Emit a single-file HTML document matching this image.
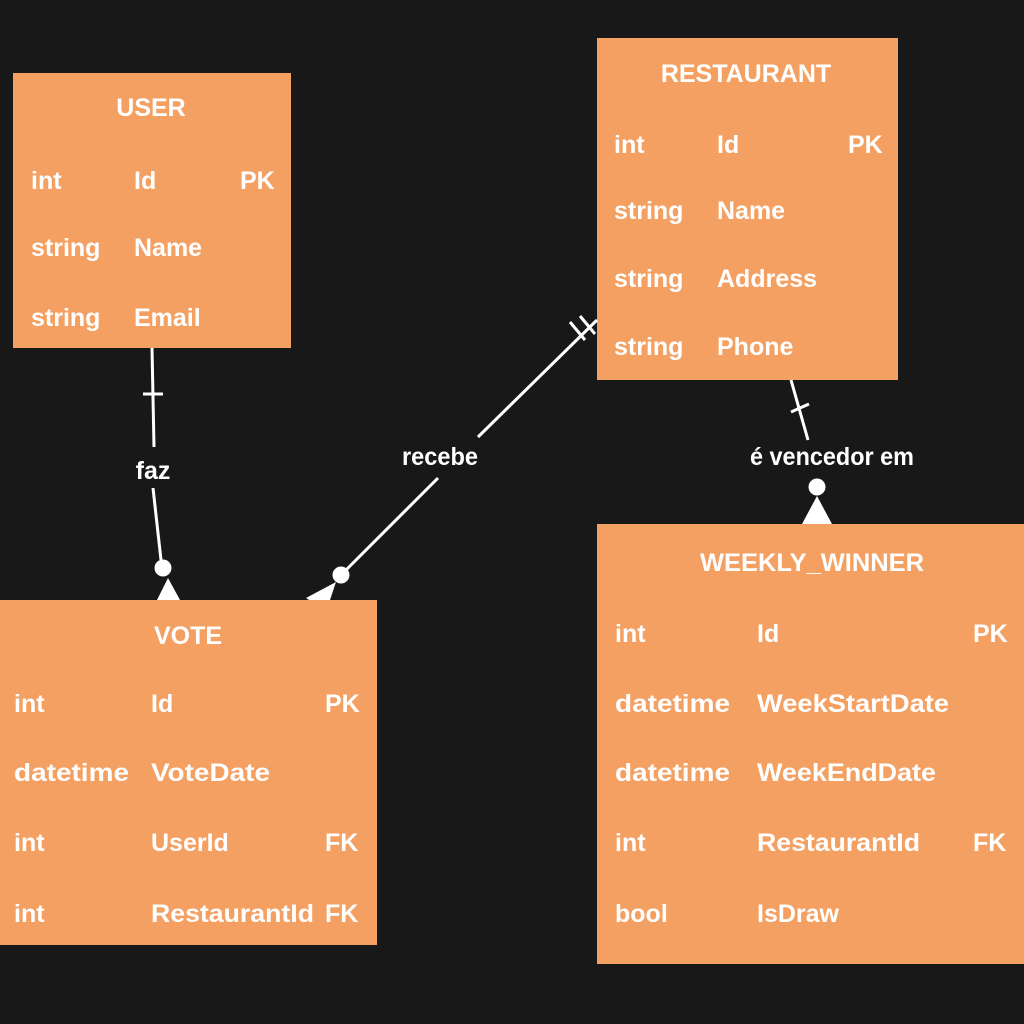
<!DOCTYPE html>
<html><head><meta charset="utf-8"><style>
html,body{margin:0;padding:0;background:#181818;}
svg{display:block}
text{font-family:"Liberation Sans",sans-serif;font-weight:bold;fill:#fff;dominant-baseline:central;font-size:25px}
</style></head><body>
<svg width="1024" height="1024" viewBox="0 0 1024 1024">
<rect width="1024" height="1024" fill="#181818"/>
<g fill="#F4A062">
<rect x="13" y="73" width="278" height="275"/>
<rect x="597" y="38" width="301" height="342"/>
<rect x="0" y="600" width="377" height="345"/>
<rect x="597" y="524" width="427" height="440"/>
</g>
<!-- USER -->
<text x="151" y="108" text-anchor="middle">USER</text>
<text x="31" y="181">int</text><text x="134" y="181">Id</text><text x="240" y="181">PK</text>
<text x="31" y="248">string</text><text x="134" y="248">Name</text>
<text x="31" y="318">string</text><text x="134" y="318">Email</text>
<!-- RESTAURANT -->
<text x="746" y="74" text-anchor="middle">RESTAURANT</text>
<text x="614" y="145">int</text><text x="717" y="145">Id</text><text x="848" y="145">PK</text>
<text x="614" y="211">string</text><text x="717" y="211">Name</text>
<text x="614" y="279">string</text><text x="717" y="279">Address</text>
<text x="614" y="347">string</text><text x="717" y="347">Phone</text>
<!-- VOTE -->
<text x="188" y="636" text-anchor="middle">VOTE</text>
<text x="14" y="704">int</text><text x="151" y="704">Id</text><text x="325" y="704">PK</text>
<text x="14" y="773" textLength="115" lengthAdjust="spacingAndGlyphs">datetime</text><text x="151" y="773" textLength="119" lengthAdjust="spacingAndGlyphs">VoteDate</text>
<text x="14" y="843">int</text><text x="151" y="843">UserId</text><text x="325" y="843">FK</text>
<text x="14" y="914">int</text><text x="151" y="914" textLength="163" lengthAdjust="spacingAndGlyphs">RestaurantId</text><text x="325" y="914">FK</text>
<!-- WEEKLY_WINNER -->
<text x="812" y="563" text-anchor="middle" textLength="224" lengthAdjust="spacingAndGlyphs">WEEKLY_WINNER</text>
<text x="615" y="634">int</text><text x="757" y="634">Id</text><text x="973" y="634">PK</text>
<text x="615" y="704" textLength="115" lengthAdjust="spacingAndGlyphs">datetime</text><text x="757" y="704" textLength="192" lengthAdjust="spacingAndGlyphs">WeekStartDate</text>
<text x="615" y="773" textLength="115" lengthAdjust="spacingAndGlyphs">datetime</text><text x="757" y="773" textLength="179" lengthAdjust="spacingAndGlyphs">WeekEndDate</text>
<text x="615" y="843">int</text><text x="757" y="843" textLength="163" lengthAdjust="spacingAndGlyphs">RestaurantId</text><text x="973" y="843">FK</text>
<text x="615" y="914">bool</text><text x="757" y="914">IsDraw</text>
<!-- connectors -->
<g stroke="#fff" stroke-width="3" fill="none">
<line x1="152" y1="348" x2="154" y2="447"/>
<line x1="143" y1="394" x2="163" y2="394"/>
<line x1="153" y1="488" x2="161" y2="560"/>
<line x1="597" y1="320" x2="478" y2="437"/>
<line x1="570" y1="322" x2="585" y2="340"/>
<line x1="580" y1="316" x2="595" y2="334"/>
<line x1="438" y1="478" x2="346" y2="570"/>
<line x1="791" y1="380" x2="808" y2="440"/>
<line x1="791" y1="412" x2="809" y2="404"/>
</g>
<g fill="#fff">
<circle cx="163" cy="568" r="8.5"/>
<polygon points="168,578 157,600 180,600"/>
<circle cx="341" cy="575" r="8.5"/>
<polygon points="336,582 306,598 309,600 330,600"/>
<circle cx="817" cy="487" r="8.5"/>
<polygon points="817,496 802,524 832,524"/>
</g>
<text x="153" y="471" text-anchor="middle" font-size="22">faz</text>
<text x="440" y="457" text-anchor="middle" font-size="22" textLength="76" lengthAdjust="spacingAndGlyphs">recebe</text>
<text x="832" y="457" text-anchor="middle" font-size="22" textLength="164" lengthAdjust="spacingAndGlyphs">é vencedor em</text>
</svg>
</body></html>
